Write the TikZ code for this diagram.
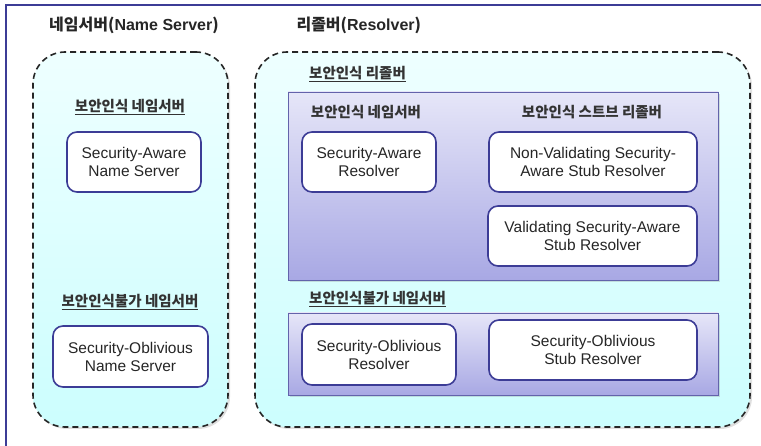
\documentclass[tikz,border=0pt]{standalone}
\usepackage{fontspec}
\setmainfont{Liberation Sans}
\newfontfamily\krfont{Noto Sans CJK KR}
\usetikzlibrary{shadows}
\usetikzlibrary{positioning}
\definecolor{framec}{HTML}{3C3C96}
\definecolor{cyantop}{HTML}{EEFFFF}
\definecolor{cyanbot}{HTML}{CCFEFE}
\definecolor{lavtop}{HTML}{E6E6F8}
\definecolor{lavbot}{HTML}{A8A8E4}
\tikzset{
    region/.style = {rectangle, draw=black!85, line width=1.6pt, dash pattern=on 6pt off 4pt, rounded corners=32pt,
                     top color=cyantop, bottom color=cyanbot, drop shadow={opacity=0.25,shadow xshift=2pt,shadow yshift=-2pt}},
    panel/.style = {rectangle, draw=framec!80, line width=0.8pt, top color=lavtop, bottom color=lavbot,
                    drop shadow={opacity=0.25,shadow xshift=2pt,shadow yshift=-2pt}},
    item/.style = {rectangle, draw=framec, line width=1.6pt, rounded corners=10pt, fill=white, align=center,
                   text=black!85, font=\fontsize{15.5}{18}\selectfont},
    title/.style = {font=\krfont\bfseries\fontsize{16}{18}\selectfont, text=black!85},
    heading/.style = {font=\krfont\bfseries\fontsize{14.5}{16}\selectfont, text=black!80, inner sep=0pt}
}
\begin{document}
\begin{tikzpicture}[x=1pt,y=-1pt]
  \useasboundingbox (0,0) rectangle (761,446);
  \draw[framec, line width=1.6pt] (761,5) -- (6,5) -- (6,446);

  % titles
  \node[title] (tNS) at (134,25) {네임서버({\rmfamily Name Server})};
  \node[title, anchor=west] (tRes) at (293,25) {리졸버({\rmfamily Resolver})};

  % dashed regions
  \node[region, minimum width=195pt, minimum height=375pt] (nsArea) at (130.5,239.5) {};
  \node[region, minimum width=495pt, minimum height=375pt] (resArea) at (502.5,239.5) {};

  % name server side
  \node[heading] (hSaNS) at (130,107) {\underline{보안인식 네임서버}};
  \node[item, minimum width=134pt, minimum height=60pt] (saNS) at (134,162) {Security-Aware\\Name Server};
  \node[heading] (hSoNS) at (130,302) {\underline{보안인식불가 네임서버}};
  \node[item, minimum width=155pt, minimum height=61pt] (soNS) at (130.5,356.5) {Security-Oblivious\\Name Server};

  % resolver side
  \node[heading, anchor=west] (hSaRes) at (309,74) {\underline{보안인식 리졸버}};
  \node[panel, minimum width=430pt, minimum height=188pt] (pAware) at (503,186) {};
  \node[heading] (hSaResNS) at (366,112) {보안인식 네임서버};
  \node[heading] (hStub) at (592,112) {보안인식 스트브 리졸버};
  \node[item, minimum width=134pt, minimum height=60pt] (saRes) at (369,162) {Security-Aware\\Resolver};
  \node[item, minimum width=208pt, minimum height=60pt] (nvStub) at (593,162) {Non-Validating Security-\\Aware Stub Resolver};
  \node[item, minimum width=209pt, minimum height=60pt] (vStub) at (592.5,236) {Validating Security-Aware\\Stub Resolver};

  \node[heading, anchor=west] (hSoRes) at (309,299) {\underline{보안인식불가 네임서버}};
  \node[panel, minimum width=430pt, minimum height=82pt] (pObliv) at (503,354) {};
  \node[item, minimum width=154pt, minimum height=61pt] (soRes) at (379,354.5) {Security-Oblivious\\Resolver};
  \node[item, minimum width=208pt, minimum height=60pt] (soStub) at (593,350) {Security-Oblivious\\Stub Resolver};
\end{tikzpicture}
\end{document}
